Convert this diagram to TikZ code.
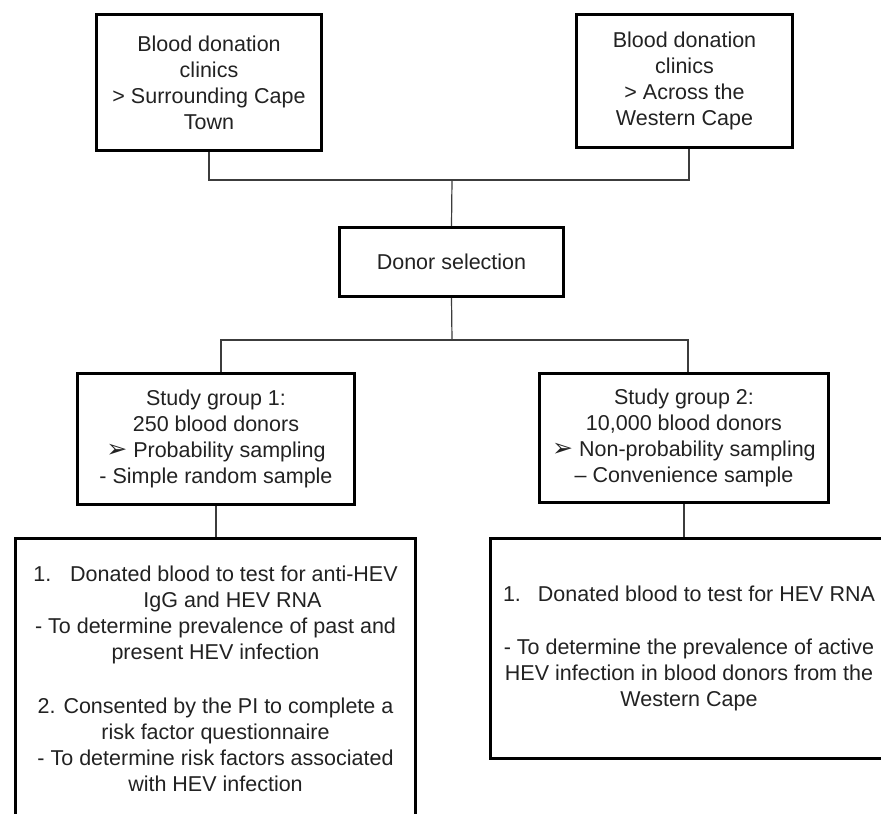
\documentclass[tikz,border=0pt]{standalone}
\usepackage{fontspec}
\setmainfont{Liberation Sans}
\newfontfamily\dingfont{DejaVu Sans}
\definecolor{ink}{HTML}{222222}
\definecolor{wirecol}{HTML}{3C3C3C}
\newcommand{\arrowbullet}{{\dingfont\fontsize{25}{26}\selectfont ➢}}
\begin{document}
\begin{tikzpicture}[x=1pt,y=-1pt,
  box/.style={draw=black, line width=3pt, fill=white, text=ink, align=center,
    inner sep=0pt, font=\fontsize{21.5}{26}\selectfont},
  wire/.style={draw=wirecol, line width=1.2pt}]
\clip (0,0) rectangle (881,814);
\fill[white] (0,0) rectangle (881,814);

% source clinics
\node[box, minimum width=225pt, minimum height=136pt] (capetown) at (209,82.5)
  {Blood donation\\clinics\\> Surrounding Cape\\Town};
\node[box, minimum width=216pt, minimum height=133pt] (westcape) at (684.5,81)
  {Blood donation\\clinics\\> Across the\\Western Cape};

% selection
\node[box, minimum width=224pt, minimum height=69pt] (select) at (451.5,262)
  {Donor selection};

% study groups
\node[box, minimum width=277pt, minimum height=131pt] (groupone) at (216,439)
  {Study group 1:\\250 blood donors\\\arrowbullet\ Probability sampling\\- Simple random sample};
\node[box, minimum width=289pt, minimum height=129pt] (grouptwo) at (684,438)
  {Study group 2:\\10,000 blood donors\\\arrowbullet\ Non-probability sampling\\– Convenience sample};

% outcomes
\node[box, minimum width=400pt, minimum height=280pt] (testone) at (215.5,678.5)
  {1.\hspace{19pt}Donated blood to test for anti-HEV\\
   \hspace{34pt}IgG and HEV RNA\\
   - To determine prevalence of past and\\
   present HEV infection\\[28pt]
   2. Consented by the PI to complete a\\
   risk factor questionnaire\\
   - To determine risk factors associated\\
   with HEV infection};
\node[box, minimum width=397pt, minimum height=220pt] (testtwo) at (689,648.5)
  {1.\hspace{17pt}Donated blood to test for HEV RNA\\[27pt]
   - To determine the prevalence of active\\
   HEV infection in blood donors from the\\
   Western Cape};

% connectors
\coordinate (merge) at (452,180);
\coordinate (split) at (452,340);
\draw[wire] (capetown.south) |- (merge) -| ([xshift=4.5pt]westcape.south);
\draw[wire] (merge) -- (select.north);
\draw[wire] (select.south) -- (split);
\draw[wire] ([xshift=5pt]groupone.north) |- (split) -| ([xshift=4pt]grouptwo.north);
\draw[wire] (groupone.south) -- (groupone.south |- testone.north);
\draw[wire] (grouptwo.south) -- (grouptwo.south |- testtwo.north);
\end{tikzpicture}
\end{document}
